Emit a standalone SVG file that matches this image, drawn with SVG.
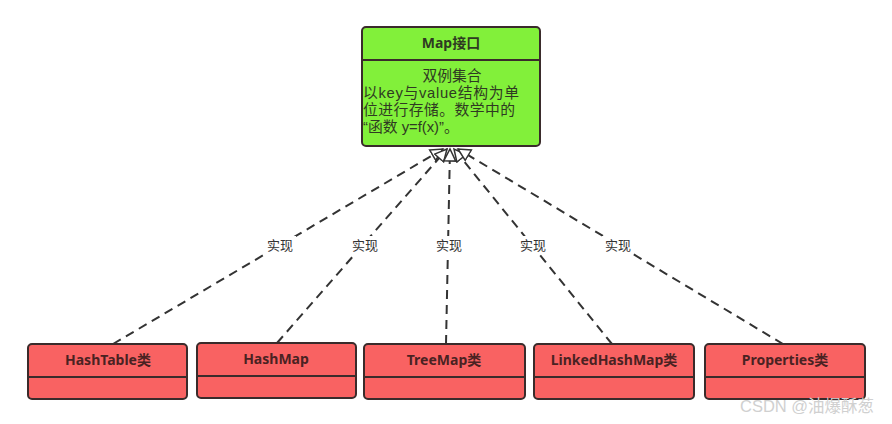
<svg xmlns="http://www.w3.org/2000/svg" width="892" height="424" viewBox="0 0 892 424">
<style>
.box{stroke:#3a2b2b;stroke-width:2}
.red{fill:#f96262}
.green{fill:#82f03a}
.div{stroke:#3a2b2b;stroke-width:2}
.t{font-family:"Noto Sans","Noto Sans CJK SC",sans-serif;font-weight:bold;font-size:14px;fill:#4a2222;text-anchor:middle}
.body{font-family:"Liberation Sans","Noto Sans CJK SC",sans-serif;font-size:14.8px;fill:#2f3a22}
.lbl{font-family:"Noto Sans CJK SC",sans-serif;font-size:13px;fill:#333;text-anchor:middle}
.conn{stroke:#333;stroke-width:2;stroke-dasharray:9,6;fill:none}
.wm{font-family:"Liberation Sans","Noto Sans CJK SC",sans-serif;font-size:16.5px;fill:#d0d0d0}
</style>
<defs>
<marker id="tri" markerWidth="16" markerHeight="16" refX="13" refY="7" orient="auto" markerUnits="userSpaceOnUse">
<path d="M1,1 L13,7 L1,13 Z" fill="#fff" stroke="#333" stroke-width="1.5"/>
</marker>
</defs>
<rect width="892" height="424" fill="#fff"/>
<g id="connectors">
<line class="conn" x1="113" y1="344" x2="443" y2="149" marker-end="url(#tri)"/>
<line class="conn" x1="277" y1="343" x2="447" y2="149" marker-end="url(#tri)"/>
<line class="conn" x1="446" y1="344" x2="450" y2="149" marker-end="url(#tri)"/>
<line class="conn" x1="612" y1="344" x2="454" y2="149" marker-end="url(#tri)"/>
<line class="conn" x1="783" y1="344" x2="458" y2="149" marker-end="url(#tri)"/>
<g>
<rect x="264" y="236" width="32" height="18" fill="#fff"/>
<rect x="349" y="236" width="32" height="18" fill="#fff"/>
<rect x="433" y="236" width="32" height="18" fill="#fff"/>
<rect x="517" y="236" width="32" height="18" fill="#fff"/>
<rect x="602" y="236" width="32" height="18" fill="#fff"/>
<text class="lbl" x="280" y="250">实现</text>
<text class="lbl" x="365" y="250">实现</text>
<text class="lbl" x="449" y="250">实现</text>
<text class="lbl" x="533" y="250">实现</text>
<text class="lbl" x="618" y="250">实现</text>
</g>
</g>
<g id="map">
<rect class="box green" x="362" y="27" width="178" height="119" rx="4"/>
<line class="div" x1="362" y1="60" x2="540" y2="60"/>
<text class="t" x="451" y="48" style="fill:#2f3a22">Map接口</text>
<text class="body" x="452" y="81" text-anchor="middle">双例集合</text>
<text class="body" x="363" y="98" textLength="156" lengthAdjust="spacing">以key与value结构为单</text>
<text class="body" x="363" y="115" textLength="152" lengthAdjust="spacing">位进行存储。数学中的</text>
<text class="body" x="363" y="132">“函数 y=f(x)”。</text>
</g>
<g id="hashtable">
<rect class="box red" x="28" y="344" width="159" height="55" rx="4"/>
<line class="div" x1="28" y1="377" x2="187" y2="377"/>
<text class="t" x="108" y="365">HashTable类</text>
</g>
<g id="hashmap">
<rect class="box red" x="197" y="343" width="159" height="55" rx="4"/>
<line class="div" x1="197" y1="376" x2="356" y2="376"/>
<text class="t" x="276" y="364">HashMap</text>
</g>
<g id="treemap">
<rect class="box red" x="364" y="344" width="161" height="55" rx="4"/>
<line class="div" x1="364" y1="377" x2="525" y2="377"/>
<text class="t" x="444" y="365">TreeMap类</text>
</g>
<g id="linkedhashmap">
<rect class="box red" x="534" y="344" width="160" height="55" rx="4"/>
<line class="div" x1="534" y1="377" x2="694" y2="377"/>
<text class="t" x="614" y="365">LinkedHashMap类</text>
</g>
<g id="properties">
<rect class="box red" x="705" y="344" width="160" height="55" rx="4"/>
<line class="div" x1="705" y1="377" x2="865" y2="377"/>
<text class="t" x="785" y="365">Properties类</text>
</g>
<text class="wm" x="740" y="412">CSDN @油爆酥葱</text>
</svg>
